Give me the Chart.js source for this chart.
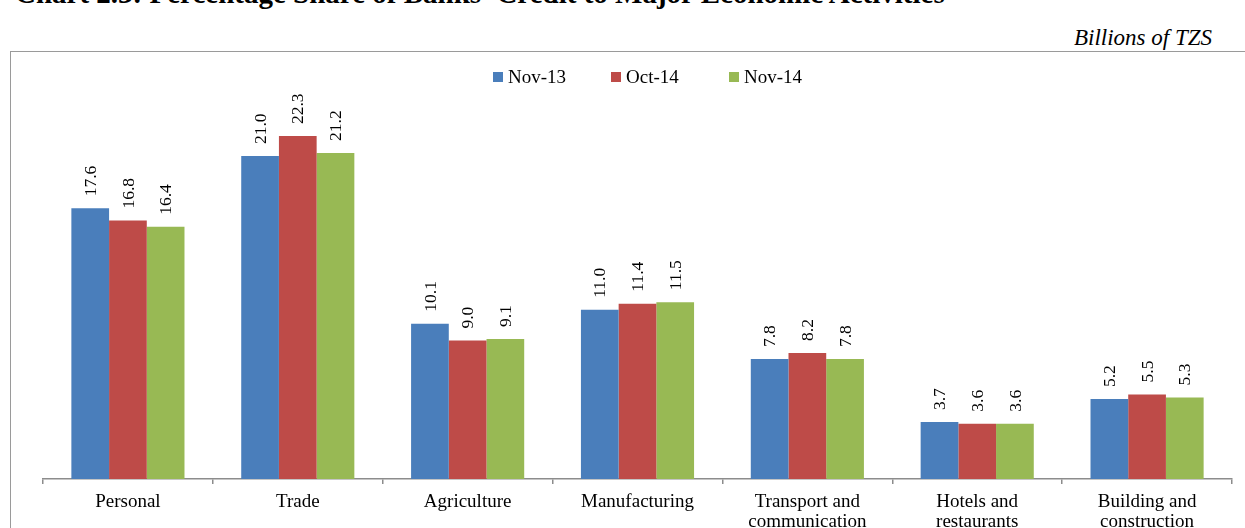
<!DOCTYPE html>
<html>
<head>
<meta charset="utf-8">
<script src="https://cdn.jsdelivr.net/npm/chart.js@4/dist/chart.umd.min.js"></script>
<style>
  html, body { margin: 0; padding: 0; background: #fff; }
  body { width: 1245px; height: 528px; position: relative; overflow: hidden; font-family: "Liberation Serif", "Times New Roman", serif; }
  #title { position: absolute; left: 15px; top: -21px; font-size: 29px; font-weight: bold; line-height: 1; white-space: nowrap; color: #000; }
  #unit { position: absolute; right: 33px; top: 26px; font-size: 23px; font-style: italic; line-height: 1; color: #000; }
  #frame { position: absolute; left: 10px; top: 51px; width: 1260px; height: 500px; border: 1.5px solid #9a9a9a; box-sizing: border-box; }
  #legend { position: absolute; top: 66px; left: 493px; display: flex; font-size: 19px; color: #000; white-space: nowrap; }
  #legend span.item { display: inline-flex; align-items: center; width: 118px; }
  #legend span.box { width: 10px; height: 10px; display: inline-block; margin-right: 5px; }
  #wrap { position: absolute; left: 0; top: 0; width: 1245px; height: 528px; }
</style>
</head>
<body>
<div id="title">Chart 2.3: Percentage Share of Banks' Credit to Major Economic Activities</div>
<div id="unit">Billions of TZS</div>
<div id="frame"></div>
<div id="wrap"><canvas id="chart"></canvas></div>
<div id="legend"></div>
<script>
var categories = ["Personal", "Trade", "Agriculture", "Manufacturing",
  ["Transport and", "communication"], ["Hotels and", "restaurants"], ["Building and", "construction"]];
var seriesNames = ["Nov-13", "Oct-14", "Nov-14"];
var nov13 = [17.6, 21.0, 10.1, 11.0, 7.8, 3.7, 5.2];
var oct14 = [16.8, 22.3, 9.0, 11.4, 8.2, 3.6, 5.5];
var nov14 = [16.4, 21.2, 9.1, 11.5, 7.8, 3.6, 5.3];
var colors = ["#4a7ebb", "#be4b48", "#98b954"];

// legend in html
var legend = document.getElementById("legend");
seriesNames.forEach(function (name, i) {
  var item = document.createElement("span");
  item.className = "item";
  item.innerHTML = '<span class="box" style="background:' + colors[i] + '"></span>' + name;
  legend.appendChild(item);
});

// vertical value labels above each bar
var barLabels = {
  id: "barLabels",
  afterDatasetsDraw: function (chart) {
    var ctx = chart.ctx;
    ctx.save();
    ctx.font = "17.5px 'Liberation Serif', serif";
    ctx.fillStyle = "#000";
    ctx.textAlign = "left";
    ctx.textBaseline = "middle";
    chart.data.datasets.forEach(function (ds, i) {
      chart.getDatasetMeta(i).data.forEach(function (bar, j) {
        ctx.save();
        ctx.translate(bar.x + 1, bar.y - 12);
        ctx.rotate(-Math.PI / 2);
        ctx.fillText(ds.data[j].toFixed(1), 0, 0);
        ctx.restore();
      });
    });
    ctx.restore();
  }
};

new Chart(document.getElementById("chart"), {
  type: "bar",
  data: {
    labels: categories,
    datasets: [
      { label: seriesNames[0], data: nov13, backgroundColor: colors[0] },
      { label: seriesNames[1], data: oct14, backgroundColor: colors[1] },
      { label: seriesNames[2], data: nov14, backgroundColor: colors[2] }
    ]
  },
  options: {
    responsive: true,
    maintainAspectRatio: false,
    animation: false,
    layout: { padding: { left: 43, right: 13, top: 94.5, bottom: 0 } },
    datasets: { bar: { categoryPercentage: 0.666, barPercentage: 1.0, borderWidth: 0 } },
    plugins: { legend: { display: false }, tooltip: { enabled: false } },
    scales: {
      x: {
        grid: { offset: true, drawOnChartArea: false, tickLength: 5, color: "#8c8c8c", lineWidth: 1.5 },
        border: { color: "#8c8c8c", width: 1.5 },
        ticks: { color: "#000", padding: 8, maxRotation: 0, autoSkip: false,
          font: { family: "'Liberation Serif', serif", size: 19, lineHeight: 1.05 } },
        afterFit: function (scale) { scale.height = 49; }
      },
      y: { display: false, min: 0, max: 25 }
    }
  },
  plugins: [barLabels]
});
</script>
</body>
</html>
